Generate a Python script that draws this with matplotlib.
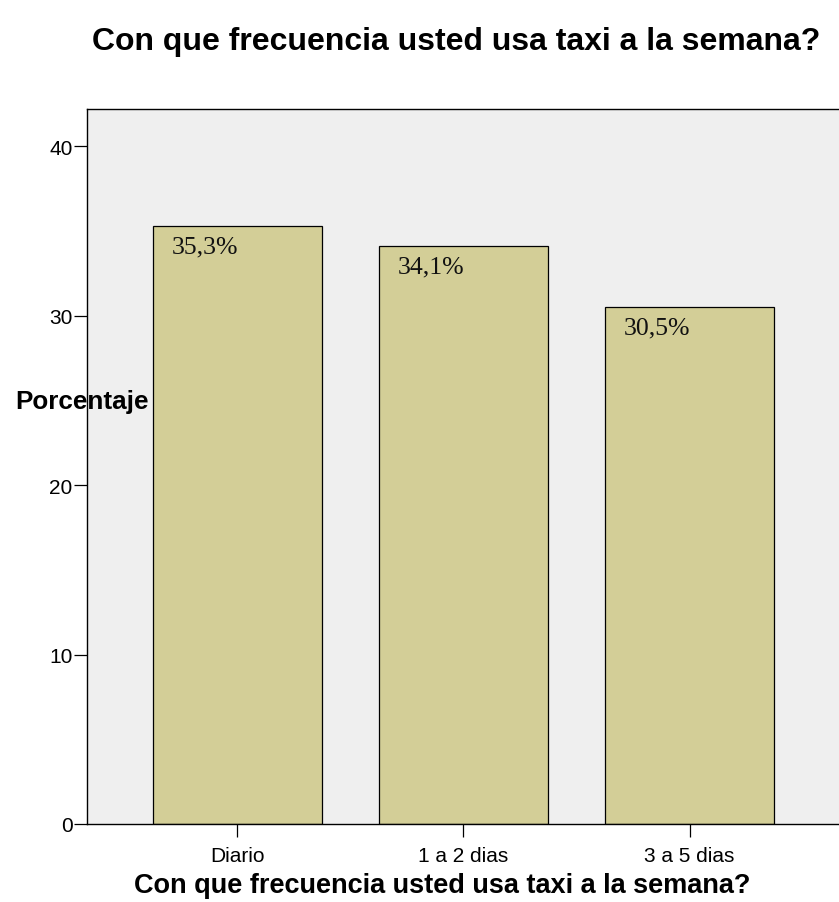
import matplotlib.pyplot as plt

categories = ['Diario', '1 a 2 dias', '3 a 5 dias']
values = [35.3, 34.1, 30.5]
value_labels = ['35,3%', '34,1%', '30,5%']
yticks = [0, 10, 20, 30, 40]

title = 'Con que frecuencia usted usa taxi a la semana?'

plt.rcParams['font.family'] = ['Liberation Sans', 'DejaVu Sans']

fig = plt.figure(figsize=(8.39, 9.03), dpi=100)
ax = fig.add_axes([87 / 839, 1 - 825 / 903, 752 / 839, 715 / 903])
ax.set_facecolor('#efefef')

x = range(len(categories))
ax.bar(x, values, width=0.748, color='#d3ce97', edgecolor='black', linewidth=0.9, zorder=2)

for i, (v, lab) in enumerate(zip(values, value_labels)):
    ax.text(i - 0.29, v - 0.55, lab, ha='left', va='top', fontsize=18.5,
            family=['Liberation Serif', 'DejaVu Serif'], color='#111111')

ax.set_xlim(-0.664, 2.66)
ax.set_ylim(0, 42.2)
ax.set_xticks(list(x))
ax.set_xticklabels(categories, fontsize=15)
ax.set_yticks(yticks)
ax.set_yticklabels([str(t) for t in yticks], fontsize=15)
ax.tick_params(axis='both', direction='out', length=9.5, width=0.9, color='black', pad=1)
ax.tick_params(axis='x', pad=6)

for side in ['left', 'top', 'bottom']:
    ax.spines[side].set_linewidth(1.0)
ax.spines['right'].set_visible(False)

fig.text(456 / 839, 1 - 42 / 903, title, ha='center', va='center', fontsize=23, fontweight='bold')
fig.text(442 / 839, 1 - 886 / 903, title, ha='center', va='center', fontsize=19.5, fontweight='bold')
fig.text(15 / 839, 1 - 402 / 903, 'Porcentaje', ha='left', va='center', fontsize=18.8, fontweight='bold')

fig.savefig('out.png', dpi=100)
